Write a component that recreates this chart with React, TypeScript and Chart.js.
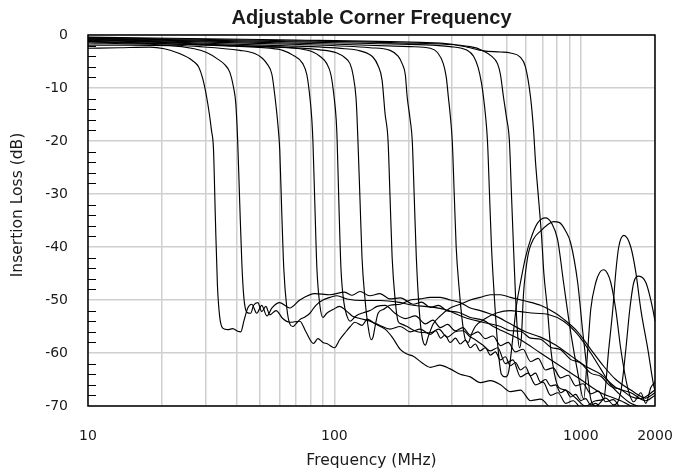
import React, { useEffect, useRef } from 'react';
import { Chart, registerables } from 'chart.js';

Chart.register(...registerables);

const chartTitle = 'Adjustable Corner Frequency';
const xTitle = 'Frequency (MHz)';
const yTitle = 'Insertion Loss (dB)';

const xTickValues = [10, 20, 30, 40, 50, 60, 70, 80, 90, 100, 200, 300, 400, 500, 600, 700, 800, 900, 1000, 2000];
const xLabelValues = [10, 100, 1000, 2000];
const yTickValues = [0, -10, -20, -30, -40, -50, -60, -70];
const yMinorTicks = [-2, -4, -6, -8, -12, -14, -16, -18, -22, -24, -26, -28, -32, -34, -36, -38, -42, -44, -46, -48, -52, -54, -56, -58, -62, -64, -66, -68];

const c1Freq = [10, 13.4, 17.8, 20.4, 23.5, 26.5, 28.1, 29.2, 30.3, 31.1, 31.7, 32.3, 32.9, 33.5, 34.2, 35.2, 36.9, 38.7, 40.5, 41.7, 42.9, 44.5, 46.2, 48.4, 50.7, 53.2, 55.8, 60, 65.9, 72.4, 83.3, 95.9, 110, 118, 127, 139, 153, 168, 185, 209, 226, 245, 265, 285, 318, 356, 400, 450, 569, 686, 828, 999, 1204, 1453, 1670];
const c1Loss = [-2.5, -2.4, -2.3, -2.6, -3.5, -4.8, -6, -8.2, -11.7, -15, -18, -21.5, -35, -47, -53, -55.3, -55.6, -55.4, -55.9, -56, -54, -51.5, -50.8, -52.5, -51, -53, -51.5, -50.5, -51.5, -50, -48.8, -49, -48.5, -49.1, -48.4, -49.2, -48.8, -49.8, -49.6, -50.8, -50.4, -51.4, -51, -52, -52.3, -53.3, -53.8, -55.2, -57.5, -60, -62.5, -65, -67.5, -69, -70.5];

const c2Freq = [10, 14.7, 21.4, 27, 30.3, 33.5, 35.9, 37.6, 39, 39.8, 40.5, 41.3, 42.1, 42.9, 44.1, 45.7, 47, 48.9, 50.7, 52.7, 54.7, 58, 61.7, 65.9, 72.4, 76.6, 82.2, 85.7, 89.8, 93.9, 100, 105, 110, 116, 121, 129.4, 136, 146, 160.6, 171.5, 185, 197, 209, 226, 245, 268, 295, 324, 356, 391, 430, 472, 518, 569, 625, 686, 754];
const c2Loss = [-1.9, -1.9, -2, -2.6, -3.3, -4.5, -5.6, -7, -10, -13, -20, -32, -43, -49.5, -52.3, -52.5, -51, -50.5, -52.2, -51.2, -52.8, -52, -53.5, -54.2, -54, -56, -58.2, -57.3, -58, -58.3, -59, -57.5, -56.3, -55, -54.2, -54.8, -53.6, -54.5, -55.5, -57, -59.3, -60.2, -60.6, -61.8, -62.7, -62.3, -63, -64, -64.5, -65.6, -65.2, -66, -67.3, -67, -69, -68.7, -70.5];

const c3Freq = [10, 16.2, 28.4, 41.3, 47.5, 50.7, 53.2, 55.8, 57.4, 59, 60, 61.1, 62.3, 64.1, 65.9, 67.8, 69.8, 72.4, 76, 79.5, 84.1, 89.8, 95.9, 102.4, 112.5, 131, 153, 181, 209, 245, 285, 334, 391, 472, 518, 569, 625, 686, 754, 828, 909, 999, 1097, 1204, 1323, 1453, 1595, 1752, 2000];
const c3Loss = [-1.5, -1.7, -2.2, -2.9, -3.5, -4.3, -5.4, -7.5, -11.7, -17, -21.7, -33, -44, -51.5, -54.5, -55, -54.5, -53.7, -53.2, -52.5, -51, -50, -49.5, -49.2, -49.8, -50.1, -50.1, -50.4, -51, -51.3, -51.9, -53.2, -54.1, -55, -55.8, -55.9, -57.2, -57.4, -58.9, -59.4, -61.2, -61.9, -63.8, -64.4, -66.3, -66.9, -68.2, -68.6, -67];

const c4Freq = [10, 17.8, 34.2, 54.7, 61.7, 67.8, 74.4, 77.3, 79.5, 81, 81.8, 83.3, 84.9, 87.3, 89.8, 93.1, 98.7, 105, 111.5, 118, 127, 139.5, 153, 168, 185, 203, 223, 245, 258, 270, 281, 295, 310, 324, 340, 356, 373, 390, 410, 430, 450, 472, 494, 518, 543, 569, 596, 625, 655, 686, 719, 754, 790, 828, 868, 909, 953, 999, 1046, 1097, 1150, 1204];
const c4Loss = [-1.2, -1.5, -2, -2.5, -2.9, -3.8, -5.4, -7.5, -11.7, -16, -20, -32, -44, -51, -53.3, -52.5, -51.8, -51.2, -52, -53, -53.5, -54, -54.8, -55.5, -55, -56, -55.5, -56.5, -55.8, -57.2, -56.6, -58, -57.2, -58.3, -57.6, -59, -58.3, -59.6, -59, -60.4, -59.8, -61.3, -60.7, -62.4, -61.8, -63.2, -62.6, -64.3, -63.8, -65.5, -65, -66.2, -66, -67.5, -67, -68.3, -67.8, -69, -68.6, -69.8, -69.5, -70.5];

const c5Freq = [10, 19.5, 41.3, 72.4, 81.8, 87.3, 93.1, 96.8, 99.7, 101.7, 102.6, 104.3, 106.3, 109.3, 112.4, 115.7, 122.3, 131, 139.5, 149, 160.6, 176, 194, 213, 234, 251, 269, 288, 309, 332, 356, 382, 410, 440, 472, 507, 543, 583, 625, 671, 719, 772, 828, 889, 953, 1022, 1097, 1178, 1262, 1353, 1453];
const c5Loss = [-1, -1.4, -2, -2.6, -3.2, -4, -5.4, -7.5, -11.7, -16, -20, -32, -44, -50.5, -53, -54, -53, -52.4, -52, -51.2, -51, -52.5, -53.5, -53, -54.5, -53.8, -55.2, -54.6, -55.8, -55.2, -56.6, -56, -57.3, -56.8, -58.6, -58, -59.8, -59.3, -61.6, -61, -63.2, -62.8, -64.7, -64.2, -66.2, -65.8, -67.7, -67.2, -69.2, -68.8, -70.5];

const c6Freq = [10, 21.4, 49.8, 87.3, 102.4, 110.4, 115.7, 119, 122.3, 123.4, 124.6, 127, 129.4, 133.2, 137, 140.8, 143.5, 146.2, 150.4, 157.8, 168, 185, 203, 223, 245, 269, 295, 324, 356, 391, 450, 518, 596, 686, 790, 909, 1046, 1204, 1386, 1595, 1836, 2000];
const c6Loss = [-1.3, -1.7, -2.2, -2.8, -3.4, -4.3, -5.4, -7.5, -11.7, -15, -20, -31, -42, -50, -55, -57.5, -57, -55, -52.5, -51.8, -51, -50.8, -50, -49.8, -49.5, -49.5, -50, -50.5, -51.5, -52, -53, -54.5, -56, -57, -58.5, -60.5, -62.5, -64, -66.5, -67.5, -69, -68];

const c7Freq = [10, 23.5, 60, 110.4, 127, 143.5, 150.4, 156.1, 160.5, 165.1, 168.3, 171.5, 176.4, 181.3, 186.5, 197, 217, 245, 265, 287, 309, 334, 352, 373, 400, 430, 460, 494, 530, 569, 610, 655, 703, 754, 808, 868, 930, 999];
const c7Loss = [-0.9, -1.4, -2, -2.6, -3, -4.2, -5.8, -8.5, -14.8, -20, -31, -42, -50, -54, -54.5, -55, -56, -56.2, -55.5, -57, -56, -55.8, -56.8, -57.5, -58.5, -59.6, -59, -62, -61.3, -64.5, -63.8, -66, -65.5, -68, -67.5, -69.5, -69, -70.5];

const c8Freq = [10, 28.4, 72.4, 139.5, 168.3, 181.3, 188.3, 194, 197.4, 203, 207, 211, 215, 221, 227, 234, 240, 252, 269, 295, 324, 356, 391, 430, 472, 518, 596, 686, 790, 851, 971, 1097, 1238, 1386, 1595, 1836, 2000];
const c8Loss = [-0.8, -1.3, -1.8, -2.4, -2.9, -4, -5.4, -7.5, -11.7, -16, -20, -31, -42, -52, -57, -58.5, -57, -54.5, -53, -51.5, -50.8, -50, -49.5, -49, -49, -49.5, -50.2, -51, -52.5, -53.6, -56, -59.3, -62.5, -65, -67, -68.5, -67.5];

const c9Freq = [10, 34.2, 95.9, 203, 245, 262, 276.6, 284.5, 290, 295, 300.8, 306.4, 312, 321, 330.4, 340, 349.6, 359.5, 373, 410, 458, 518, 569, 655, 733, 851, 971, 1097, 1204, 1323, 1453, 1595, 1836];
const c9Loss = [-0.7, -1.2, -1.7, -2.2, -2.5, -3.3, -5.4, -8, -11.7, -15, -20, -30, -40, -48, -54, -57.5, -58, -56.5, -55, -53.5, -52.4, -52, -52.2, -52.5, -52.7, -54, -56.5, -60, -63, -66, -68, -69.5, -70.5];

const c10Freq = [10, 41.3, 139.5, 295, 346, 367, 383, 395, 402.6, 410, 418, 426, 434, 446.5, 459, 476, 494, 509, 533, 548, 569, 596, 625, 667, 719, 761, 805, 851, 909, 971, 1027, 1067, 1097, 1150, 1193, 1238, 1283, 1323, 1386, 1453, 1554, 1640, 1752, 1836, 1924, 2000];
const c10Loss = [-0.6, -1.1, -1.6, -2.2, -2.9, -4, -6.1, -9, -11.7, -15, -20, -30, -40, -50, -58, -64, -64.5, -63.6, -56, -51, -46.7, -42, -38.6, -35.5, -34.5, -35.5, -38.6, -46.7, -56, -63.6, -68.7, -59.3, -51.8, -46.7, -44.8, -44.3, -45, -46.7, -51.8, -59.3, -66.8, -69.2, -67.5, -69.5, -66.5, -65.5];

const c11Freq = [10, 49.8, 185, 356, 402.6, 434, 459, 472, 485.4, 499, 513, 523, 533, 543, 553, 563.8, 574, 585, 608, 643, 686, 733, 775, 820, 868, 909, 971, 1018, 1067, 1097, 1150, 1262, 1360, 1453, 1523, 1580, 1640, 1718, 1836, 1961, 2000];
const c11Loss = [-0.5, -1, -1.5, -2.2, -3, -4, -5.4, -7.5, -11.7, -15.5, -20, -30, -40, -49, -56, -59, -57, -49, -42, -38.5, -37, -35.8, -35.2, -35.4, -37, -39.2, -46.7, -56, -64.4, -68.7, -70, -68.5, -69.8, -67.3, -59.3, -51.8, -46.7, -45.5, -46.7, -51.8, -54];

const c12Freq = [10, 60, 223, 295, 346, 402.6, 472, 518, 569, 596, 625, 643, 655, 674, 693, 708, 733, 754, 782, 813, 868, 953, 1046, 1150, 1238, 1298, 1348, 1386, 1425, 1495, 1595, 1672, 1752, 1871, 1979, 2000];
const c12Loss = [-0.4, -0.9, -1.4, -1.7, -2.3, -3, -3.2, -3.4, -4.2, -6, -11.7, -18, -24, -31, -38, -45, -52, -59, -64, -66.5, -67, -68.5, -70, -69, -68.7, -59.3, -51.8, -44.8, -40, -37.8, -40, -44.8, -51.8, -59.3, -66.3, -67];

const curveFreqs = [c1Freq, c2Freq, c3Freq, c4Freq, c5Freq, c6Freq, c7Freq, c8Freq, c9Freq, c10Freq, c11Freq, c12Freq];
const curveLosses = [c1Loss, c2Loss, c3Loss, c4Loss, c5Loss, c6Loss, c7Loss, c8Loss, c9Loss, c10Loss, c11Loss, c12Loss];

const TEXT = '#1a1a1a';

const framePlugin = {
  id: 'frameAndTitles',
  afterDatasetsDraw(chart: any) {
    const { ctx, chartArea: a, scales } = chart;
    const y = scales.y;
    ctx.save();
    ctx.strokeStyle = '#000';
    ctx.lineWidth = 1;
    yMinorTicks.forEach((v) => {
      const py = Math.round(y.getPixelForValue(v)) + 0.5;
      ctx.beginPath();
      ctx.moveTo(a.left, py);
      ctx.lineTo(a.left + 8, py);
      ctx.stroke();
    });
    ctx.lineWidth = 1.5;
    ctx.strokeRect(a.left, a.top, a.right - a.left, a.bottom - a.top);
    ctx.restore();
  },
  afterDraw(chart: any) {
    const { ctx, chartArea: a } = chart;
    const cx = (a.left + a.right) / 2;
    ctx.save();
    ctx.fillStyle = TEXT;
    ctx.textAlign = 'center';
    ctx.textBaseline = 'middle';
    ctx.font = 'bold 20px "Liberation Sans", Arial, sans-serif';
    ctx.fillText(chartTitle, cx, 18);
    ctx.font = '15.5px "DejaVu Sans", sans-serif';
    ctx.fillText(xTitle, cx, 461);
    ctx.translate(18, 205);
    ctx.rotate(-Math.PI / 2);
    ctx.fillText(yTitle, 0, 0);
    ctx.restore();
  },
};

export default function App() {
  const ref = useRef<HTMLCanvasElement | null>(null);

  useEffect(() => {
    if (!ref.current) return;
    const datasets = curveFreqs.map((freqs, i) => {
      const losses = curveLosses[i];
      const n = Math.min(freqs.length, losses.length);
      const data = [];
      for (let k = 0; k < n; k++) data.push({ x: freqs[k], y: losses[k] });
      return {
        label: 'Curve ' + (i + 1),
        data,
        borderColor: '#000',
        borderWidth: 1.15,
        pointRadius: 0,
        fill: false,
        cubicInterpolationMode: 'monotone' as const,
      };
    });

    const chart = new Chart(ref.current, {
      type: 'line',
      data: { datasets },
      options: {
        responsive: false,
        animation: false,
        devicePixelRatio: 1,
        layout: { padding: { top: 35, right: 21, bottom: 0, left: 0 } },
        plugins: {
          legend: { display: false },
          tooltip: { enabled: false },
          title: { display: false },
        },
        scales: {
          x: {
            type: 'logarithmic',
            min: 10,
            max: 2000,
            afterBuildTicks: (s: any) => {
              s.ticks = xTickValues.map((v) => ({ value: v }));
            },
            afterFit: (s: any) => {
              s.height = 65;
            },
            grid: { color: '#cfcfcf', lineWidth: 1.5, drawTicks: true, tickLength: 21, tickColor: 'rgba(0,0,0,0)' },
            border: { display: false },
            ticks: {
              autoSkip: false,
              maxRotation: 0,
              minRotation: 0,
              padding: 1,
              color: TEXT,
              font: { family: '"DejaVu Sans", sans-serif', size: 14 },
              callback: (v: any) => (xLabelValues.includes(Number(v)) ? String(v) : ''),
            },
          },
          y: {
            type: 'linear',
            min: -70,
            max: 0,
            afterBuildTicks: (s: any) => {
              s.ticks = yTickValues.map((v) => ({ value: v }));
            },
            afterFit: (s: any) => {
              s.width = 88;
            },
            grid: { color: '#cfcfcf', lineWidth: 1.5, drawTicks: false },
            border: { display: false },
            ticks: {
              padding: 20,
              color: TEXT,
              font: { family: '"DejaVu Sans", sans-serif', size: 14 },
              callback: (v: any) => String(v),
            },
          },
        },
      },
      plugins: [framePlugin],
    } as any);

    return () => chart.destroy();
  }, []);

  return (
    <div style={{ position: 'absolute', left: 0, top: 0, width: 676, height: 471, background: '#fff' }}>
      <canvas ref={ref} width={676} height={471} style={{ display: 'block' }} />
    </div>
  );
}
